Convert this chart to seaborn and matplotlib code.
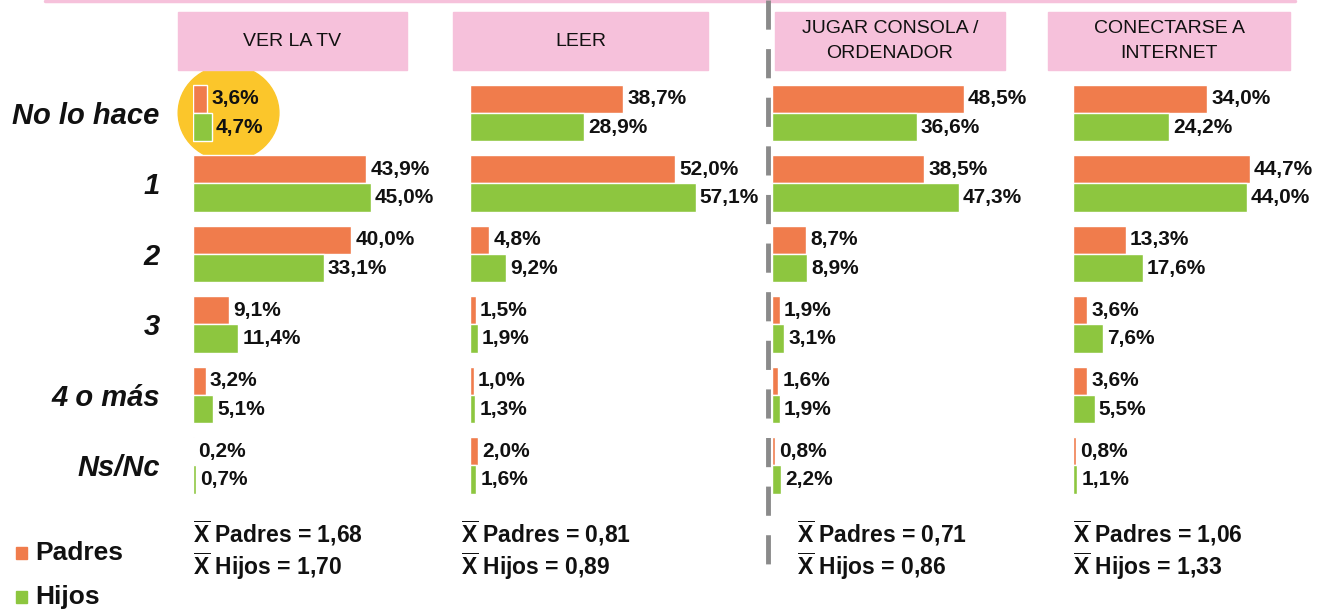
import numpy as np
import pandas as pd
import matplotlib
matplotlib.use("Agg")
import matplotlib.pyplot as plt
from matplotlib.patches import Rectangle, Ellipse
from matplotlib.lines import Line2D
import seaborn as sns

# data
categorias = ["No lo hace", "1", "2", "3", "4 o más", "Ns/Nc"]
actividades = ["VER LA TV", "LEER", "JUGAR CONSOLA /\nORDENADOR", "CONECTARSE A\nINTERNET"]
tv_padres = [3.6, 43.9, 40.0, 9.1, 3.2, 0.2]
tv_hijos = [4.7, 45.0, 33.1, 11.4, 5.1, 0.7]
leer_padres = [38.7, 52.0, 4.8, 1.5, 1.0, 2.0]
leer_hijos = [28.9, 57.1, 9.2, 1.9, 1.3, 1.6]
jugar_padres = [48.5, 38.5, 8.7, 1.9, 1.6, 0.8]
jugar_hijos = [36.6, 47.3, 8.9, 3.1, 1.9, 2.2]
internet_padres = [34.0, 44.7, 13.3, 3.6, 3.6, 0.8]
internet_hijos = [24.2, 44.0, 17.6, 7.6, 5.5, 1.1]
media_padres = ["1,68", "0,81", "0,71", "1,06"]
media_hijos = ["1,70", "0,89", "0,86", "1,33"]

series = [(tv_padres, tv_hijos), (leer_padres, leer_hijos),
          (jugar_padres, jugar_hijos), (internet_padres, internet_hijos)]

naranja = "#F07C4C"
verde = "#8DC63F"
rosa = "#F6C1DB"
negro = "#111111"

sns.set_style("white")
plt.rcParams["font.family"] = ["Liberation Sans", "DejaVu Sans"]
plt.rcParams["mathtext.fontset"] = "custom"
plt.rcParams["mathtext.bf"] = "Liberation Sans:bold"
plt.rcParams["mathtext.rm"] = "Liberation Sans"

W, H = 1317, 610
fig = plt.figure(figsize=(W / 100, H / 100), dpi=100)


def fx(px):
    return px / W


def fy(py):
    return 1 - py / H


# layout (pixels)
panel_x0 = [193, 470, 772, 1073]
media_x0 = [193, 461, 797, 1073]
px_per_pct = 3.95
xmax = 60
top_px, bot_px = 77.7, 500.7
header_boxes = [(178, 407), (453, 708), (775, 1005), (1048, 1290)]

# thin pink line at the very top
fig.add_artist(Line2D([fx(45), fx(1295)], [fy(1), fy(1)], color=rosa, lw=2.5,
                      transform=fig.transFigure))

for i, (padres, hijos) in enumerate(series):
    left = fx(panel_x0[i])
    width = fx(xmax * px_per_pct)
    ax = fig.add_axes([left, fy(bot_px), width, fy(top_px) - fy(bot_px)])
    df = pd.DataFrame({
        "cat": categorias * 2,
        "val": padres + hijos,
        "grupo": ["Padres"] * 6 + ["Hijos"] * 6,
    })
    sns.barplot(data=df, y="cat", x="val", hue="grupo", orient="h",
                palette={"Padres": naranja, "Hijos": verde}, saturation=1,
                width=0.8, legend=False, ax=ax, zorder=3)
    for cont, vals in zip(ax.containers, (padres, hijos)):
        labs = [f"{v:.1f}%".replace(".", ",") for v in vals]
        ax.bar_label(cont, labels=labs, padding=3, fontsize=15,
                     fontweight="bold", color=negro)
    ax.set_xlim(0, xmax)
    ax.set_ylim(5.5, -0.5)
    ax.set_xlabel("")
    ax.set_ylabel("")
    ax.set_xticks([])
    for s in ax.spines.values():
        s.set_visible(False)
    if i == 0:
        ax.tick_params(axis="y", length=0, pad=24, labelcolor=negro)
        for t in ax.get_yticklabels():
            t.set_fontsize(21)
            t.set_fontweight("bold")
            t.set_fontstyle("italic")
        # yellow highlight around "No lo hace"
        ax.add_patch(Ellipse((9.0, 0), 25.5, 1.35, color="#FBC62B",
                             zorder=1, clip_on=False))
    else:
        ax.set_yticks([])

    # header box
    x1, x2 = header_boxes[i]
    fig.add_artist(Rectangle((fx(x1), fy(70)), fx(x2 - x1), fy(12) - fy(70),
                             color=rosa, transform=fig.transFigure))
    fig.text(fx((x1 + x2) / 2), fy(41), actividades[i], ha="center", va="center",
             fontsize=14, linespacing=1.55, color=negro)

    # means
    fig.text(fx(media_x0[i]), fy(533), r"$\overline{\mathbf{X}}$ Padres = " + media_padres[i],
             ha="left", va="center", fontsize=16.5, fontweight="bold", color=negro)
    fig.text(fx(media_x0[i]), fy(566), r"$\overline{\mathbf{X}}$ Hijos = " + media_hijos[i],
             ha="left", va="center", fontsize=16.5, fontweight="bold", color=negro)

# dashed separator
fig.add_artist(Line2D([fx(768), fx(768)], [fy(0), fy(575)], color="#8a8a8a", lw=3.5,
                      linestyle=(0, (6, 4)), transform=fig.transFigure))

# legend
for lab, col, ypx in (("Padres", naranja, 553), ("Hijos", verde, 597)):
    fig.add_artist(Rectangle((fx(16), fy(ypx + 6)), fx(11), fy(ypx - 6) - fy(ypx + 6),
                             color=col, transform=fig.transFigure))
    fig.text(fx(35), fy(ypx), lab, ha="left", va="center", fontsize=19,
             fontweight="bold", color=negro)

fig.savefig("out.png", dpi=100, facecolor="white")
